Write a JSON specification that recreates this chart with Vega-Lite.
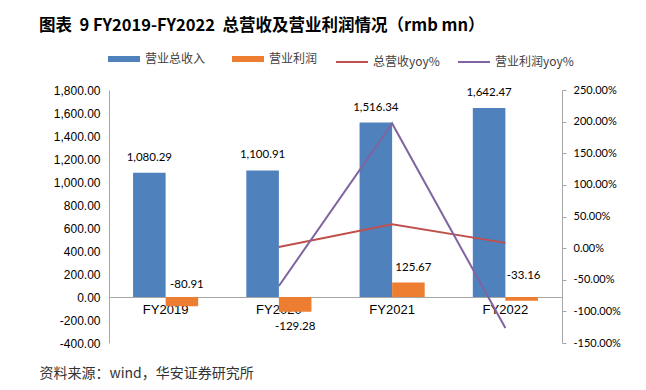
{
  "$schema": "https://vega.github.io/schema/vega-lite/v6.json",
  "width": 453,
  "height": 253,
  "autosize": {"type": "none"},
  "padding": {"left": 109, "top": 90, "right": 84, "bottom": 47},
  "background": "#ffffff",
  "title": {
    "text": "图表\u00a0 9 FY2019-FY2022\u00a0 总营收及营业利润情况（rmb mn）",
    "anchor": "start",
    "frame": "group",
    "dx": -70,
    "font": "Noto Sans CJK SC",
    "fontSize": 16.5,
    "fontWeight": "bold",
    "color": "#000000",
    "offset": 19
  },
  "datasets": {
    "bars": [
      {"year": "FY2019", "series": "营业总收入", "value": 1080.29},
      {"year": "FY2019", "series": "营业利润", "value": -80.91},
      {"year": "FY2020", "series": "营业总收入", "value": 1100.91},
      {"year": "FY2020", "series": "营业利润", "value": -129.28},
      {"year": "FY2021", "series": "营业总收入", "value": 1516.34},
      {"year": "FY2021", "series": "营业利润", "value": 125.67},
      {"year": "FY2022", "series": "营业总收入", "value": 1642.47},
      {"year": "FY2022", "series": "营业利润", "value": -33.16}
    ],
    "lines": [
      {"year": "FY2020", "series": "总营收yoy%", "value": 0.0191},
      {"year": "FY2021", "series": "总营收yoy%", "value": 0.3774},
      {"year": "FY2022", "series": "总营收yoy%", "value": 0.0832},
      {"year": "FY2020", "series": "营业利润yoy%", "value": -0.598},
      {"year": "FY2021", "series": "营业利润yoy%", "value": 1.972},
      {"year": "FY2022", "series": "营业利润yoy%", "value": -1.264}
    ]
  },
  "encoding": {
    "x": {
      "field": "year",
      "type": "nominal",
      "sort": ["FY2019", "FY2020", "FY2021", "FY2022"],
      "scale": {"paddingInner": 0.425, "paddingOuter": 0.2125},
      "axis": {
        "orient": "bottom",
        "offset": -46,
        "labelAngle": 0,
        "ticks": false,
        "domainColor": "#A6A6A6",
        "labelFont": "Liberation Sans",
        "labelFontSize": 13,
        "labelColor": "#000000",
        "labelPadding": 6,
        "title": "资料来源：wind，华安证券研究所",
        "titleX": -70,
        "titleY": 76,
        "titleAlign": "left",
        "titleBaseline": "middle",
        "titleFont": "Noto Sans CJK SC",
        "titleFontSize": 14,
        "titleFontWeight": "normal",
        "titleColor": "#333333"
      }
    }
  },
  "layer": [
    {
      "data": {"name": "bars"},
      "encoding": {
        "y": {
          "field": "value",
          "type": "quantitative",
          "scale": {"domain": [-400, 1800], "nice": false},
          "axis": {
            "orient": "left",
            "values": [-400, -200, 0, 200, 400, 600, 800, 1000, 1200, 1400, 1600, 1800],
            "format": ",.2f",
            "ticks": false,
            "grid": false,
            "title": null,
            "domainColor": "#A6A6A6",
            "labelFont": "Liberation Sans",
            "labelFontSize": 12,
            "labelColor": "#000000",
            "labelPadding": 9
          }
        },
        "xOffset": {
          "field": "series",
          "type": "nominal",
          "scale": {"domain": ["营业总收入", "营业利润"], "paddingInner": 0, "paddingOuter": 0}
        }
      },
      "layer": [
        {
          "mark": {"type": "bar"},
          "encoding": {
            "color": {
              "field": "series",
              "type": "nominal",
              "scale": {
                "domain": ["营业总收入", "营业利润", "总营收yoy%", "营业利润yoy%"],
                "range": ["#4F81BD", "#ED7D31", "#C0504D", "#8064A2"]
              },
              "legend": {
                "orient": "none",
                "legendX": 9,
                "legendY": -37,
                "direction": "horizontal",
                "title": null,
                "symbolType": "stroke",
                "symbolSize": 1024,
                "symbolStrokeWidth": 2,
                "labelFont": "Noto Sans CJK SC",
                "labelFontSize": 12,
                "labelColor": "#404040",
                "labelOffset": 15,
                "columnPadding": 14,
                "encode": {
                  "symbols": {
                    "update": {
                      "strokeWidth": {"signal": "datum.value === '营业总收入' || datum.value === '营业利润' ? 6 : 2"},
                      "stroke": {"scale": "color", "field": "value"},
                      "fill": {"value": "transparent"}
                    }
                  }
                }
              }
            }
          }
        },
        {
          "transform": [{"filter": "datum.series === '营业总收入'"}],
          "mark": {"type": "text", "dy": -15, "baseline": "middle", "font": "Lato", "fontSize": 11.5, "color": "#000000"},
          "encoding": {"text": {"field": "value", "type": "quantitative", "format": ",.2f"}}
        },
        {
          "transform": [{"filter": "datum.series === '营业利润' && datum.year === 'FY2019'"}],
          "mark": {"type": "text", "dy": -21, "dx": 5, "baseline": "middle", "font": "Lato", "fontSize": 11.5, "color": "#000000"},
          "encoding": {"text": {"field": "value", "type": "quantitative", "format": ",.2f"}}
        },
        {
          "transform": [{"filter": "datum.series === '营业利润' && datum.year === 'FY2020'"}],
          "mark": {"type": "text", "dy": 15, "baseline": "middle", "font": "Lato", "fontSize": 11.5, "color": "#000000"},
          "encoding": {"text": {"field": "value", "type": "quantitative", "format": ",.2f"}}
        },
        {
          "transform": [{"filter": "datum.series === '营业利润' && datum.year === 'FY2021'"}],
          "mark": {"type": "text", "dy": -15, "dx": 5, "baseline": "middle", "font": "Lato", "fontSize": 11.5, "color": "#000000"},
          "encoding": {"text": {"field": "value", "type": "quantitative", "format": ",.2f"}}
        },
        {
          "transform": [{"filter": "datum.series === '营业利润' && datum.year === 'FY2022'"}],
          "mark": {"type": "text", "dy": -25, "dx": 2, "baseline": "middle", "font": "Lato", "fontSize": 11.5, "color": "#000000"},
          "encoding": {"text": {"field": "value", "type": "quantitative", "format": ",.2f"}}
        }
      ]
    },
    {
      "data": {"name": "lines"},
      "layer": [
        {
          "mark": {"type": "line", "strokeWidth": 2},
          "encoding": {
            "y": {
              "field": "value",
              "type": "quantitative",
              "scale": {"domain": [-1.5, 2.5], "nice": false},
              "axis": {
                "orient": "right",
                "values": [-1.5, -1, -0.5, 0, 0.5, 1, 1.5, 2, 2.5],
                "format": ".2%",
                "grid": false,
                "title": null,
                "domainColor": "#A6A6A6",
                "tickColor": "#A6A6A6",
                "tickSize": 4,
                "labelFont": "Lato",
                "labelFontSize": 11,
                "labelColor": "#000000",
                "labelPadding": 7
              }
            },
            "color": {"field": "series", "type": "nominal"}
          }
        }
      ]
    }
  ],
  "resolve": {"scale": {"y": "independent"}},
  "config": {
    "view": {"stroke": null},
    "locale": {
      "number": {
        "decimal": ".",
        "thousands": ",",
        "grouping": [3],
        "currency": ["¥", ""],
        "minus": "-"
      }
    }
  }
}
